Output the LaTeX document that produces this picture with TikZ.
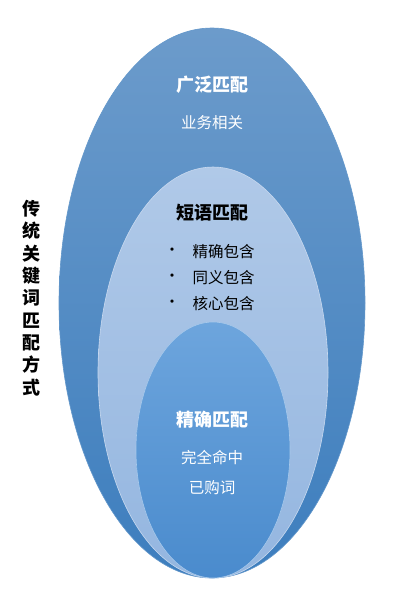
\documentclass[tikz,border=0pt]{standalone}
\usepackage{fontspec}
\usepackage{tikz}
\usetikzlibrary{shapes.geometric}
\setmainfont{Noto Sans CJK SC}
\definecolor{outertop}{HTML}{6C9BCB}
\definecolor{outerbot}{HTML}{3D7EBE}
\definecolor{midtop}{HTML}{B0C9E8}
\definecolor{midbot}{HTML}{94B6E0}
\definecolor{innertop}{HTML}{6DA5DD}
\definecolor{innerbot}{HTML}{4A8BCD}
\tikzset{
  oval/.style={ellipse, inner sep=0pt, line width=0.6pt},
  title/.style={font=\fontsize{18}{20}\selectfont\bfseries},
  item/.style={font=\fontsize{15.5}{18}\selectfont},
}

\begin{document}
\begin{tikzpicture}[x=1pt,y=-1pt]
\useasboundingbox[fill=white] (0,0) rectangle (404,590);
\node[oval, minimum width=306pt, minimum height=550pt, top color=outertop, bottom color=outerbot, draw=outerbot!80!white] (broad) at (212,303) {};
\node[oval, minimum width=230pt, minimum height=411pt, top color=midtop, bottom color=midbot, draw=midtop!70!white] (phrase) at (213,372.5) {};
\node[oval, minimum width=154pt, minimum height=256pt, top color=innertop, bottom color=innerbot, draw=innertop!60!white] (exact) at (213,450) {};
\node[title, white] (broadname) at (212,85) {广泛匹配};
\node[item, white] (broadtext) at (212,123) {业务相关};
\node[title, black] (phrasename) at (212,213) {短语匹配};
\node[item] (dot1) at (172,252) {•};
\node[item, anchor=west] (item1) at (189,252) {精确包含};
\node[item] (dot2) at (172,278) {•};
\node[item, anchor=west] (item2) at (189,278) {同义包含};
\node[item] (dot3) at (172,304) {•};
\node[item, anchor=west] (item3) at (189,304) {核心包含};
\node[title, white] (exactname) at (212,420) {精确匹配};
\node[item, white] (exacttext1) at (212,458) {完全命中};
\node[item, white] (exacttext2) at (212,488) {已购词};
\node[align=center, font=\fontsize{18}{22.3}\selectfont\bfseries] (side) at (32,298) {传\\统\\关\\键\\词\\匹\\配\\方\\式};
\end{tikzpicture}
\end{document}
